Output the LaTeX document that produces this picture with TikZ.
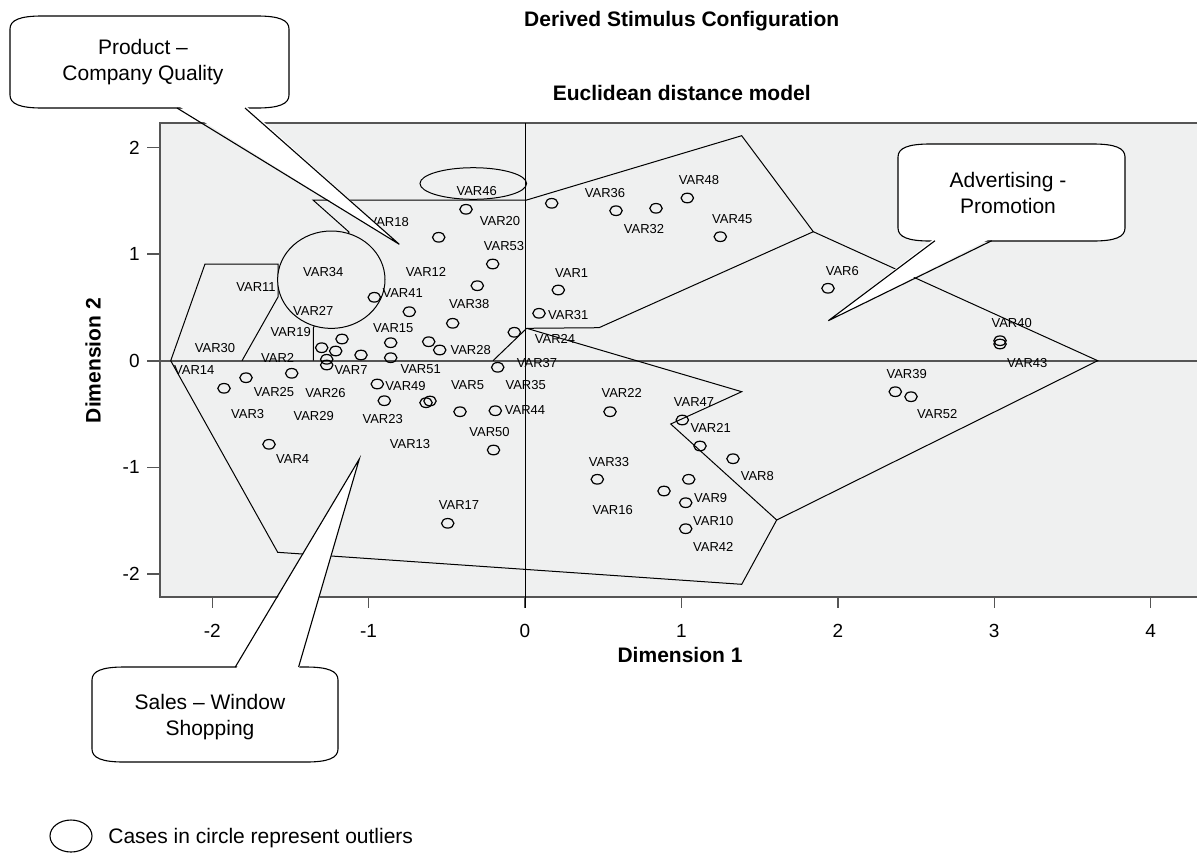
\documentclass[tikz,border=0pt]{standalone}
\usepackage{fontspec}
\setmainfont{Liberation Sans}
\usetikzlibrary{shapes.geometric}

\definecolor{plotbg}{RGB}{239,240,240}
\definecolor{framegray}{RGB}{85,85,85}

% rounded speech box: x1, y1, x2, y2 (pixel units)
\newcommand{\bubblebox}[4]{%
  \draw[bubble] (#1,{#2+13}) .. controls (#1,{#2+4}) and ({#1+10},#2) .. ({#1+32},#2)
    -- ({#3-32},#2) .. controls ({#3-10},#2) and (#3,{#2+4}) .. (#3,{#2+13})
    -- (#3,{#4-13}) .. controls (#3,{#4-4}) and ({#3-10},#4) .. ({#3-32},#4)
    -- ({#1+32},#4) .. controls ({#1+10},#4) and (#1,{#4-4}) .. (#1,{#4-13}) -- cycle;}

\begin{document}
\begin{tikzpicture}[x=0.5pt,y=-0.5pt]
    % Styles
    \tikzset{
      stim/.style={ellipse,draw,line width=0.6pt,minimum width=6.2pt,minimum height=4.8pt,inner sep=0pt},
      stimlab/.style={inner sep=0pt,font=\fontsize{6.5}{7.8}\selectfont},
      region/.style={line width=0.5pt,line join=miter},
      bubble/.style={draw,fill=white,line width=0.55pt},
      talk/.style={font=\fontsize{10.5}{13}\selectfont,align=center,inner sep=0pt},
      headline/.style={font=\fontsize{10.5}{13}\selectfont\bfseries,inner sep=0pt},
      ticklab/.style={font=\fontsize{9.5}{11}\selectfont,inner sep=0pt}
    }
    \useasboundingbox (0,0) rectangle (1197,852);

    % --- Titles ---
    \node[headline,anchor=base] (title) at (681.7,26.5) {Derived Stimulus Configuration};
    \node[headline,anchor=base] (subtitle) at (681.7,100.2) {Euclidean distance model};

    % --- Plot area ---
    \fill[plotbg] (160,123) rectangle (1197,597);
    \draw[framegray,line width=0.9pt] (1197,123) -- (160,123) -- (160,597) -- (1197,597);

    % Ticks and tick labels
    \foreach \k in {-2,...,2} {
      \draw[framegray,line width=0.7pt] (147,{360.7-106.6*\k}) -- (160,{360.7-106.6*\k});
      \node[ticklab,anchor=east] (ytick\k) at (140,{360.7-106.6*\k}) {\k};
    }
    \foreach \k in {-2,...,4} {
      \draw[framegray,line width=0.7pt] ({525+156.4*\k},597) -- ({525+156.4*\k},608);
      \node[ticklab,anchor=base] (xtick\k) at ({525+156.4*\k},637) {\k};
    }
    \node[headline,anchor=base] (dim1) at (680,662.5) {Dimension 1};
    \node[headline,rotate=90] (dim2) at (93,360.7) {Dimension 2};

    % Zero lines
    \draw[framegray,line width=0.8pt] (147,360.7) -- (1197,360.7);
    \draw[line width=0.5pt] (525,123) -- (525,608);

    % --- Regions ---
    \draw[region] (170.7,360.7) -- (205,264) -- (278,264) -- (278,297) -- (242,360.7);
    \draw[region] (313.3,360.7) -- (313.3,328.3) -- (349,232) -- (313,200) -- (526.7,200)
      -- (741.7,135.7) -- (813.3,231.7) -- (599,327.7) -- (526.7,328.3) -- (493,360.7);
    \draw[region] (526.7,328.3) -- (741.7,391.7) -- (670.7,424) -- (776.7,520)
      -- (1097.7,360.7) -- (813.3,231.7);
    \draw[region] (776.7,520) -- (741.7,584.3) -- (277.7,552.3) -- (170.7,360.7);

    % Outlier circles
    \draw[region,fill=plotbg] (331.3,279.7) ellipse [x radius=26.85pt, y radius=24.35pt];
    \draw[region] (473.3,183.5) ellipse [x radius=26.65pt, y radius=7.9pt];

    % --- Stimuli ---
    \foreach \mx/\my [count=\i] in {466/209.3, 438.7/237.3, 492.7/264, 477.3/285.7,
        374.3/297.3, 409.3/311.7, 452.7/323.3, 514.3/332.3, 342/339, 321.7/347.7,
        335.7/351, 361/355, 390.7/342.7, 390.7/357.7, 428.7/341.7, 439.7/350,
        326.7/359.3, 326.7/365, 497.7/367.3, 291.7/373.3, 246/377.7, 224/388.3,
        377.3/384, 384.3/400.7, 426/402.7, 430/401, 460/411.7, 495.3/410.7,
        269/444.3, 493.5/450, 447.7/523.3, 551.7/203.3, 616/210.7, 656/208.3,
        687.3/198, 720.3/236.7, 558.3/290, 539/313.3, 610/411.7, 682.3/420,
        700/446, 733/458.7, 597.3/479.3, 688.7/479.3, 664/491, 685.7/502.7,
        685.7/528.7, 828/288.3, 1000/340.7, 1000/344, 895.3/391.7, 911/396.7}
      \node[stim] (m\i) at (\mx,\my) {};

    \foreach \lx/\ly/\lab in {476.7/191/VAR46, 388.7/222/VAR18, 500/221/VAR20,
        504/246/VAR53, 323.3/271.7/VAR34, 426/271.7/VAR12, 256/286.7/VAR11,
        402.7/293.3/VAR41, 469.3/304.3/VAR38, 313.3/310.7/VAR27, 290.7/332/VAR19,
        393.3/328.3/VAR15, 215/347.7/VAR30, 470.7/350.5/VAR28, 277.7/358.3/VAR2,
        194.3/370/VAR14, 351/370.5/VAR7, 420.7/368.8/VAR51, 274/392.3/VAR25,
        325.5/393.3/VAR26, 405.5/386/VAR49, 467.5/385.5/VAR5, 247.7/414.3/VAR3,
        313.7/416/VAR29, 382.7/419/VAR23, 489.5/432/VAR50, 410/444.3/VAR13,
        292.7/459/VAR4, 459/504.7/VAR17, 537/363.3/VAR37, 525.7/385.5/VAR35,
        525/410/VAR44, 605/193.3/VAR36, 699/180.3/VAR48, 644/229.3/VAR32,
        732.3/218.7/VAR45, 571.7/272.7/VAR1, 568.3/315/VAR31, 555/339/VAR24,
        621.7/393.3/VAR22, 694/401.7/VAR47, 710.7/428.3/VAR21, 757.3/476/VAR8,
        609/461.7/VAR33, 710.7/498.3/VAR9, 612.7/510/VAR16, 713.3/521/VAR10,
        713.3/546.7/VAR42, 842.3/270.7/VAR6, 1011.7/322.7/VAR40, 1027.3/362.7/VAR43,
        906.7/374/VAR39, 937.3/414/VAR52}
      \node[stimlab] (\lab) at (\lx,\ly) {\lab};

    % --- Callouts ---
    \bubblebox{10}{16}{289}{108}
    \node[talk] (product) at (143,62) {Product –\\Company Quality};
    \fill[white] (177,105) -- (399.3,244.3) -- (245,105) -- cycle;
    \draw[line width=0.55pt] (177,108) -- (399.3,244.3) -- (245,108);

    \bubblebox{898}{144}{1125}{241}
    \node[talk] (advert) at (1008,193) {Advertising -\\Promotion};
    \fill[white] (935,238) -- (828.3,320.7) -- (991.7,238) -- cycle;
    \draw[line width=0.55pt] (935,240.7) -- (828.3,320.7) -- (991.7,240.7);

    \bubblebox{92}{667}{338}{762}
    \node[talk] (sales) at (210,717) {Sales – Window\\Shopping};
    \fill[white] (235.3,670) -- (359.3,459) -- (298.6,670) -- cycle;
    \draw[line width=0.55pt] (235.3,667) -- (359.3,459) -- (298.6,667);

    % --- Legend ---
    \draw[line width=0.55pt] (71,836) ellipse [x radius=10.5pt, y radius=8pt];
    \node[talk,anchor=base west] (legend) at (108,843.5) {Cases in circle represent outliers};
\end{tikzpicture}
\end{document}
